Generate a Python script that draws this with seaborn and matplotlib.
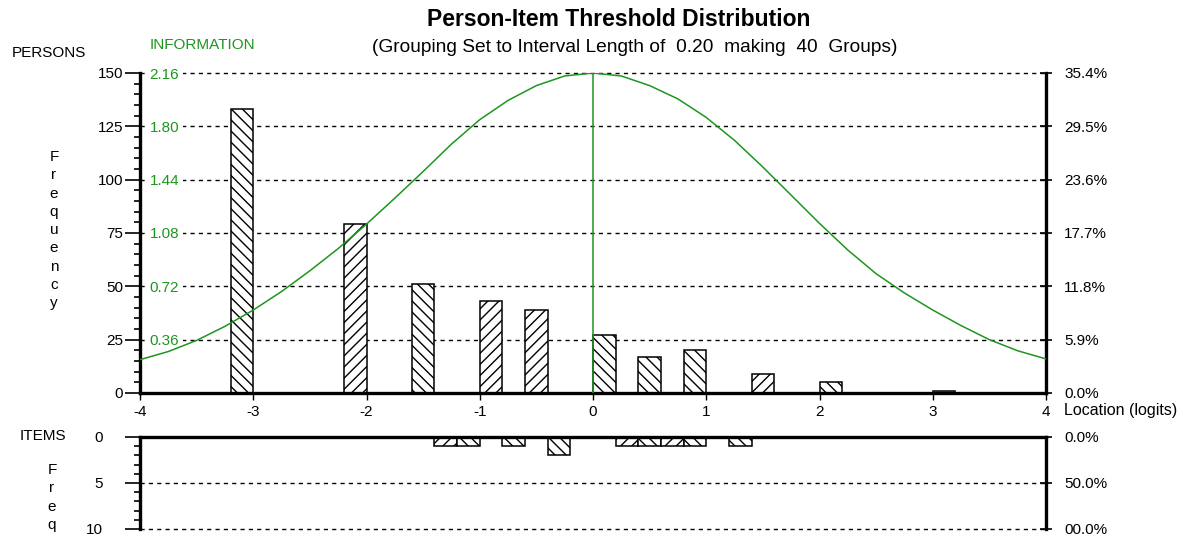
import numpy as np
import pandas as pd
import matplotlib
matplotlib.use("Agg")
import matplotlib.pyplot as plt
import seaborn as sns
from matplotlib.ticker import MultipleLocator, FixedLocator, FuncFormatter

# persons: left edge of each 0.20-logit group and its count
person_left = [-3.2, -2.2, -1.6, -1.0, -0.6, 0.0, 0.4, 0.8, 1.4, 2.0, 3.0]
person_freq = [133, 79, 51, 43, 39, 27, 17, 20, 9, 5, 1]

# items: left edge of each group and its count
item_left = [-1.4, -1.2, -0.8, -0.4, 0.2, 0.4, 0.6, 0.8, 1.2]
item_freq = [1, 1, 1, 2, 1, 1, 1, 1, 1]

# test information curve
info_x = [-4.0, -3.75, -3.5, -3.25, -3.0, -2.75, -2.5, -2.25, -2.0, -1.75, -1.5,
          -1.25, -1.0, -0.75, -0.5, -0.25, 0.0, 0.25, 0.5, 0.75, 1.0, 1.25,
          1.5, 1.75, 2.0, 2.25, 2.5, 2.75, 3.0, 3.25, 3.5, 3.75, 4.0]
info_y = [0.225, 0.280, 0.355, 0.450, 0.560, 0.685, 0.825, 0.975, 1.140, 1.315, 1.495,
          1.680, 1.845, 1.975, 2.075, 2.140, 2.160, 2.140, 2.075, 1.985, 1.860, 1.705,
          1.525, 1.335, 1.145, 0.965, 0.805, 0.675, 0.560, 0.455, 0.360, 0.285, 0.230]
info_peak = 0.0
info_max = 2.16

item_pct_labels = ["0.0%", "50.0%", "00.0%"]
x_ticks = [-4, -3, -2, -1, 0, 1, 2, 3, 4]

# hatch per bar (same order as above)
person_hatch = ["\\\\\\", "///", "\\\\\\", "///", "///", "\\\\\\", "\\\\\\", "\\\\\\", "///", "\\\\\\", ""]
item_hatch = ["///", "\\\\\\", "\\\\\\", "\\\\\\", "///", "\\\\\\", "///", "\\\\\\", "\\\\\\"]

sns.set_theme(style="white")
plt.rcParams["font.family"] = ["Liberation Sans", "DejaVu Sans"]
plt.rcParams["hatch.linewidth"] = 1.0
plt.rcParams["axes.unicode_minus"] = False
for key in ["text.color", "axes.labelcolor", "xtick.color", "ytick.color"]:
    plt.rcParams[key] = "black"

GREEN = "#1e961e"
FS = 11
W, H = 1193, 545
fig = plt.figure(figsize=(W / 100, H / 100), dpi=100)


def rect(x0, y0, x1, y1):
    return [x0 / W, 1 - y1 / H, (x1 - x0) / W, (y1 - y0) / H]


def pos(x, y):
    return x / W, 1 - y / H


edges = [round(v, 2) for v in np.linspace(-4, 4, 41)]
dash = (0, (3, 3))


def draw_bars(ax, left, freq, hatches):
    df = pd.DataFrame({"loc": [l + 0.1 for l in left], "n": freq})
    sns.histplot(data=df, x="loc", weights="n", bins=edges, ax=ax, color="white",
                 edgecolor="black", linewidth=1.1, alpha=1)
    lookup = {round(l, 1): h for l, h in zip(left, hatches)}
    for p in ax.patches:
        if p.get_height() == 0:
            p.set_visible(False)
            continue
        h = lookup.get(round(p.get_x(), 1), "")
        p.set_hatch(h)
        p.set_facecolor("white")
        if h == "":
            p.set_facecolor("#b4b4b4")


# ---------------- persons panel ----------------
ax = fig.add_axes(rect(140, 73, 1046, 393))
draw_bars(ax, person_left, person_freq, person_hatch)
ax.set_xlim(-4, 4)
ax.set_ylim(0, 150)
ax.set_xlabel("")
ax.set_ylabel("")
ax.set_xticks(x_ticks)
ax.set_yticks(range(0, 151, 25))
ax.yaxis.set_minor_locator(MultipleLocator(5))
ax.tick_params(axis="y", which="major", direction="out", length=11, width=1.2,
               pad=1, labelsize=FS, left=True)
ax.tick_params(axis="y", which="minor", direction="out", length=4, width=1.2, left=True)
ax.tick_params(axis="x", direction="out", length=5, width=1, pad=4, labelsize=FS,
               bottom=True)
ax.yaxis.grid(True, color="black", linestyle=dash, linewidth=1.0)
for gl in ax.yaxis.get_gridlines():
    gl.set_clip_on(False)
ax.spines["top"].set_visible(False)
for s in ["left", "bottom", "right"]:
    ax.spines[s].set_linewidth(2.4)
    ax.spines[s].set_color("black")

# information curve on its own scale
info_ax = ax.twinx()
sns.lineplot(x=info_x, y=info_y, ax=info_ax, color=GREEN, linewidth=1.1)
info_ax.plot([info_peak, info_peak], [0, info_max], color=GREEN, linewidth=1.1)
info_ax.set_ylim(0, info_max)
info_ax.set_xlim(-4, 4)
info_ax.yaxis.tick_left()
info_ticks = np.round(np.arange(0.36, info_max + 0.01, 0.36), 2)
info_ax.yaxis.set_major_locator(FixedLocator(info_ticks))
info_ax.yaxis.set_major_formatter(FuncFormatter(lambda v, p: f"{v:.2f}"))
info_ax.tick_params(axis="y", direction="in", length=0, pad=-7, labelsize=FS,
                    labelcolor=GREEN)
for lbl in info_ax.get_yticklabels():
    lbl.set_horizontalalignment("left")
    lbl.set_bbox(dict(facecolor="white", edgecolor="none", pad=3))
for s in info_ax.spines.values():
    s.set_visible(False)
info_ax.set_ylabel("")

# percentage axis on the right
total_persons = sum(person_freq)
pct_ax = ax.twinx()
pct_ax.set_ylim(0, 150)
pct_ax.yaxis.set_major_locator(FixedLocator(range(0, 151, 25)))
pct_ax.yaxis.set_major_formatter(FuncFormatter(lambda v, p: f"{v / total_persons * 100:.1f}%"))
pct_ax.tick_params(axis="y", direction="inout", length=8, width=1.2, pad=9,
                   labelsize=FS, right=True)
for s in pct_ax.spines.values():
    s.set_visible(False)

# ---------------- items panel ----------------
ax2 = fig.add_axes(rect(140, 437, 1046, 529))
draw_bars(ax2, item_left, item_freq, item_hatch)
ax2.set_xlim(-4, 4)
ax2.set_ylim(10, 0)
ax2.set_xlabel("")
ax2.set_ylabel("")
ax2.set_xticks([])
ax2.set_yticks([0, 5, 10])
ax2.yaxis.set_minor_locator(MultipleLocator(1))
ax2.tick_params(axis="y", which="major", direction="out", length=11, width=1.2,
                pad=16, labelsize=FS, left=True)
ax2.tick_params(axis="y", which="minor", direction="out", length=4, width=1.2, left=True)
ax2.yaxis.grid(True, color="black", linestyle=dash, linewidth=1.0)
for gl in ax2.yaxis.get_gridlines():
    gl.set_clip_on(False)
ax2.spines["bottom"].set_visible(False)
for s in ["left", "top", "right"]:
    ax2.spines[s].set_linewidth(2.4)
    ax2.spines[s].set_color("black")

ax2r = ax2.twinx()
ax2r.set_ylim(10, 0)
ax2r.set_yticks([0, 5, 10])
ax2r.set_yticklabels(item_pct_labels)
ax2r.tick_params(axis="y", direction="inout", length=8, width=1.2, pad=9,
                 labelsize=FS, right=True)
for s in ax2r.spines.values():
    s.set_visible(False)

# ---------------- text ----------------
fig.text(*pos(619, 20), "Person-Item Threshold Distribution", ha="center", va="center",
         fontsize=16.5, fontweight="bold")
fig.text(*pos(635, 47), "(Grouping Set to Interval Length of  0.20  making  40  Groups)",
         ha="center", va="center", fontsize=13.8)
fig.text(*pos(12, 53), "PERSONS", ha="left", va="center", fontsize=FS)
fig.text(*pos(150, 45), "INFORMATION", ha="left", va="center", fontsize=FS, color=GREEN)
fig.text(*pos(1064, 411), "Location (logits)", ha="left", va="center", fontsize=11.5)
fig.text(*pos(20, 436), "ITEMS", ha="left", va="center", fontsize=FS)

for i, ch in enumerate("Frequency"):
    fig.text(*pos(54, 157 + i * 18.3), ch, ha="center", va="center", fontsize=FS)
for i, ch in enumerate("Freq"):
    fig.text(*pos(52, 470 + i * 18.5), ch, ha="center", va="center", fontsize=FS)

fig.savefig("out.png", dpi=100)
